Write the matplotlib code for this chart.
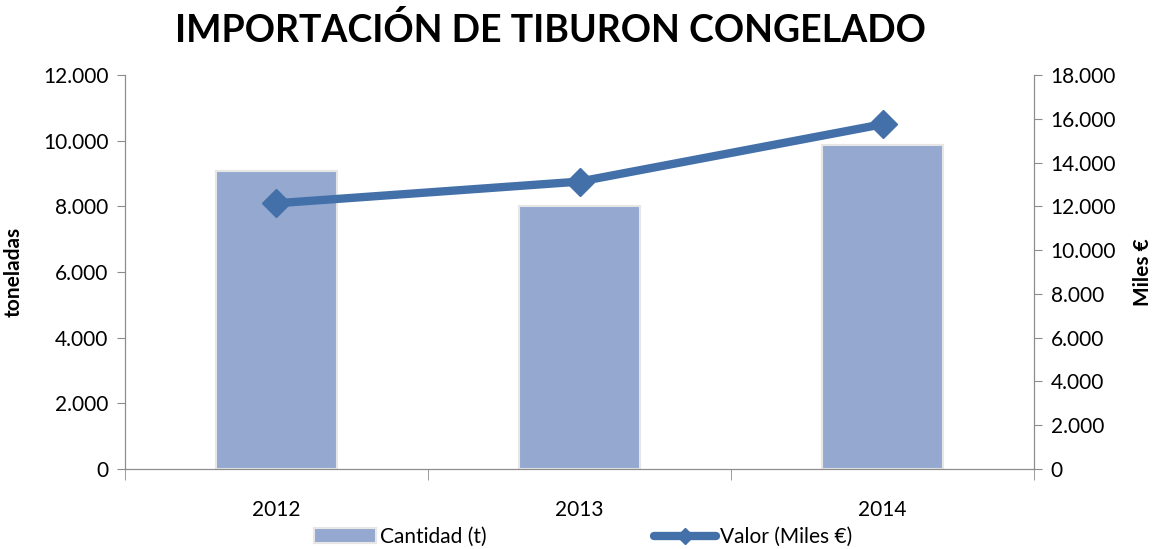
import matplotlib.pyplot as plt
from matplotlib.ticker import FuncFormatter, FixedLocator

# Datos
years = ['2012', '2013', '2014']
cantidad = [9080, 8010, 9870]      # toneladas
valor = [12140, 13130, 15750]      # miles de euros

plt.rcParams['font.family'] = ['Lato', 'DejaVu Sans']

bar_color = '#95a9d0'
line_color = '#4370a8'
spine_color = '#8c8c8c'


def miles(v, pos):
    return '{:,.0f}'.format(v).replace(',', '.')


fig = plt.figure(figsize=(11.66, 5.49), dpi=100)
ax = fig.add_axes([0.1072, 0.1457, 0.7796, 0.7177])
ax2 = ax.twinx()

x = list(range(len(years)))
ax.bar(x, cantidad, width=0.4, color=bar_color, edgecolor='#e6e6e6', linewidth=1.5, zorder=2)
ax2.plot(x, valor, color=line_color, linewidth=6, marker='D', markersize=14,
         solid_capstyle='round', zorder=3)

ax.set_xlim(-0.5, 2.5)
ax.set_ylim(0, 12000)
ax2.set_ylim(0, 18000)
ax.set_yticks(range(0, 12001, 2000))
ax2.set_yticks(range(0, 18001, 2000))
ax.yaxis.set_major_formatter(FuncFormatter(miles))
ax2.yaxis.set_major_formatter(FuncFormatter(miles))

ax.set_xticks(x)
ax.set_xticklabels(years)
ax.xaxis.set_minor_locator(FixedLocator([-0.5, 0.5, 1.5, 2.5]))
ax.tick_params(axis='x', which='major', length=0, pad=22, labelsize=15)
ax.tick_params(axis='x', which='minor', length=8, color=spine_color)
ax.tick_params(axis='y', length=6, color=spine_color, labelsize=15, pad=6)
ax2.tick_params(axis='y', length=6, color=spine_color, labelsize=15, pad=6)

for a in (ax, ax2):
    a.spines['top'].set_visible(False)
    for s in ('left', 'right', 'bottom'):
        a.spines[s].set_color(spine_color)

ax.set_ylabel('toneladas', fontsize=15, fontweight='bold', labelpad=14)
ax2.set_ylabel('Miles €', fontsize=15, fontweight='bold', labelpad=12)

fig.text(0.472, 0.945, 'IMPORTACIÓN DE TIBURON CONGELADO', ha='center', va='center',
         fontsize=27, fontweight='bold')

handles = [ax.containers[0], ax2.lines[0]]
fig.legend(handles, ['Cantidad (t)', 'Valor (Miles €)'], loc='center',
           bbox_to_anchor=(0.5, 0.022), ncol=2, frameon=False, fontsize=15,
           columnspacing=8, handlelength=3, handletextpad=0.2, markerscale=0.6)

fig.savefig('out.png', dpi=100)
